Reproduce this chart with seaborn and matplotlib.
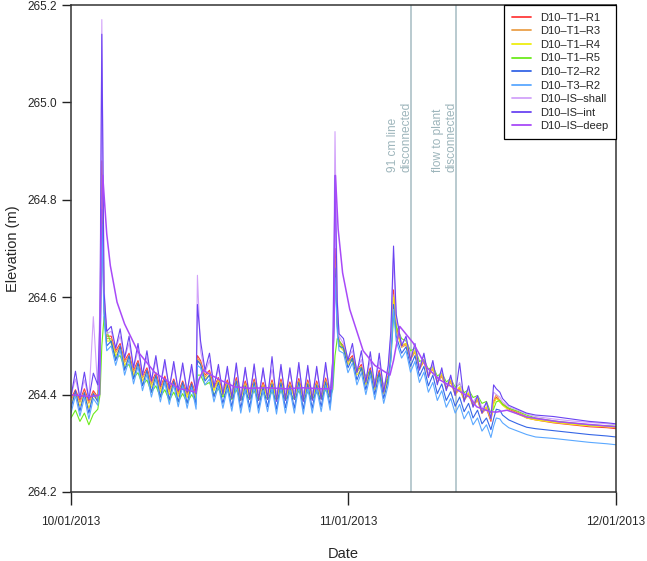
import matplotlib
matplotlib.use("Agg")
import matplotlib.pyplot as plt
import matplotlib.dates as mdates
from matplotlib.lines import Line2D
import numpy as np
import pandas as pd
import seaborn as sns

START = pd.Timestamp("2013-10-01")

# sample times, days after 10/01/2013, shared by the eight oscillating wells
t_days = [0, 0.5, 1, 1.5, 2, 2.5, 3,
          3.25, 3.45, 3.7, 4,
          4.5, 5, 5.5, 6, 6.5, 7, 7.5, 8, 8.5, 9, 9.5, 10, 10.5, 11, 11.5,
          12, 12.5, 13, 13.5, 14,
          14.15,
          14.5, 15, 15.5, 16, 16.5, 17, 17.5, 18, 18.5, 19, 19.5, 20, 20.5,
          21, 21.5, 22, 22.5, 23, 23.5, 24, 24.5, 25, 25.5, 26, 26.5, 27,
          27.5, 28, 28.5, 29,
          29.3, 29.55, 29.8,
          30, 30.5, 31, 31.5, 32, 32.5, 33, 33.5, 34, 34.5, 35, 35.5,
          35.8, 36.1, 36.4,
          37, 37.5, 38, 38.5, 39, 39.5, 40, 40.5, 41, 41.5, 42, 42.5, 43,
          43.5, 44, 44.5, 45, 45.5, 46, 46.5, 47,
          47.3, 47.6, 48, 48.3,
          49, 50, 51, 52, 54, 56, 58, 60, 61]

# elevations, mm above 264 m
r1_mm = [392, 410, 388, 412, 386, 408, 395,
         500, 880, 600, 520,
         520, 490, 505, 470, 485, 450, 470, 438, 455, 425, 445, 415, 438, 410,
         432, 405, 428, 403, 426, 400,
         480,
         470, 440, 450, 415, 435, 405, 430, 400, 435, 398, 428, 400, 432, 398,
         425, 400, 430, 397, 432, 398, 426, 400, 433, 396, 430, 398, 428, 399,
         434, 402,
         450, 700, 560,
         510, 500, 470, 480, 450, 462, 430, 455, 420, 450, 412, 440,
         500, 615, 540,
         500, 505, 475, 490, 455, 470, 440, 455, 428, 440, 415, 428, 402, 415,
         390, 402, 378, 390, 362, 372, 345,
         385, 395, 385, 380,
         370, 362, 352, 348, 342, 338, 334, 332, 330]

r3_mm = [388, 405, 384, 406, 382, 404, 392,
         480, 850, 585, 515,
         515, 486, 500, 466, 480, 446, 465, 434, 450, 421, 440, 411, 433, 406,
         428, 401, 424, 399, 422, 396,
         475,
         466, 436, 446, 412, 431, 402, 426, 397, 430, 395, 424, 397, 428, 395,
         421, 397, 426, 394, 428, 395, 422, 397, 429, 393, 426, 395, 424, 396,
         430, 399,
         440, 680, 550,
         505, 496, 466, 476, 446, 458, 426, 450, 416, 446, 408, 436,
         495, 605, 535,
         497, 502, 472, 487, 452, 467, 437, 452, 425, 437, 412, 425, 399, 412,
         388, 400, 376, 388, 362, 372, 348,
         388, 400, 388, 382,
         372, 364, 355, 350, 344, 340, 336, 334, 332]

r4_mm = [380, 402, 376, 400, 372, 398, 388,
         470, 800, 575, 510,
         510, 480, 495, 460, 475, 440, 460, 428, 445, 415, 436, 405, 428, 400,
         424, 396, 420, 394, 418, 392,
         470,
         462, 432, 440, 408, 427, 398, 422, 394, 428, 392, 420, 394, 425, 392,
         418, 394, 424, 391, 425, 392, 419, 394, 427, 390, 424, 392, 421, 393,
         427, 396,
         435, 660, 545,
         500, 490, 462, 470, 440, 452, 420, 445, 410, 440, 402, 430,
         490, 600, 530,
         502, 505, 478, 490, 458, 470, 443, 455, 430, 442, 418, 430, 405, 416,
         393, 404, 381, 392, 366, 375, 350,
         380, 392, 385, 378,
         368, 360, 352, 348, 343, 339, 336, 334, 333]

r5_mm = [352, 368, 345, 362, 338, 360, 370,
         400, 500, 560, 530,
         505, 475, 480, 455, 462, 435, 445, 420, 430, 405, 418, 395, 410, 388,
         405, 385, 402, 383, 400, 385,
         440,
         440, 420, 425, 400, 412, 395, 408, 390, 410, 388, 405, 390, 408, 388,
         404, 390, 406, 388, 408, 389, 404, 390, 408, 387, 406, 390, 405, 391,
         410, 395,
         410, 480, 515,
         512, 495, 472, 470, 452, 455, 438, 448, 428, 440, 420, 432,
         470, 560, 540,
         515, 510, 490, 495, 468, 472, 452, 458, 438, 445, 426, 433, 415, 422,
         404, 410, 394, 398, 382, 386, 362,
         370, 385, 388, 380,
         372, 366, 358, 352, 346, 342, 338, 336, 335]

t2r2_mm = [372, 408, 366, 404, 362, 402, 385,
           460, 780, 570, 500,
           510, 470, 500, 450, 480, 432, 465, 418, 450, 405, 440, 395, 432,
           390, 428, 385, 425, 382, 422, 380,
           470,
           462, 428, 440, 395, 425, 382, 420, 375, 428, 372, 418, 374, 425,
           372, 416, 375, 422, 370, 424, 373, 418, 372, 426, 370, 422, 372,
           420, 375, 426, 378,
           430, 660, 540,
           500, 495, 455, 475, 430, 455, 410, 450, 400, 445, 392, 430,
           480, 585, 520,
           485, 498, 458, 480, 438, 458, 418, 440, 402, 422, 388, 406, 376,
           395, 365, 382, 352, 368, 340, 352, 328,
           350, 370, 368, 358,
           348, 340, 333, 330, 326, 322, 318, 315, 313]

t3r2_mm = [362, 398, 356, 394, 350, 392, 378,
           450, 750, 555, 490,
           500, 460, 492, 440, 472, 422, 458, 408, 442, 395, 432, 385, 425,
           380, 420, 375, 418, 372, 415, 370,
           460,
           455, 420, 432, 385, 418, 372, 412, 366, 420, 362, 410, 364, 418,
           362, 408, 365, 414, 360, 416, 362, 410, 362, 418, 360, 414, 362,
           412, 365, 418, 368,
           420, 640, 530,
           490, 485, 445, 465, 420, 445, 400, 440, 390, 435, 382, 420,
           470, 575, 510,
           475, 490, 446, 468, 425, 446, 405, 425, 388, 408, 374, 392, 362,
           380, 350, 366, 338, 352, 325, 338, 312,
           335, 352, 350, 342,
           332, 325, 318, 313, 310, 306, 302, 299, 297]

shall_mm = [398, 432, 394, 430, 392, 560, 410,
            600, 1170, 620, 525,
            530, 495, 520, 475, 505, 455, 490, 440, 478, 428, 470, 420, 462,
            415, 458, 410, 455, 408, 452, 405,
            645,
            490, 445, 470, 420, 452, 410, 448, 405, 455, 402, 448, 405, 452,
            402, 446, 404, 452, 400, 454, 403, 446, 403, 455, 400, 452, 402,
            448, 404, 455, 408,
            470, 940, 600,
            520, 505, 475, 490, 452, 472, 432, 470, 422, 468, 415, 450,
            520, 680, 560,
            505, 515, 480, 500, 458, 480, 442, 462, 430, 448, 418, 435, 408,
            425, 396, 410, 385, 398, 372, 382, 352,
            405, 400, 395, 385,
            375, 368, 360, 355, 350, 346, 343, 340, 338]

int_mm = [396, 448, 392, 446, 390, 444, 420,
          560, 1140, 610, 530,
          540, 495, 535, 475, 520, 455, 505, 440, 490, 428, 480, 418, 472,
          412, 468, 408, 465, 405, 462, 402,
          585,
          510, 450, 485, 415, 462, 400, 458, 392, 465, 388, 456, 390, 463,
          388, 455, 390, 478, 386, 462, 388, 455, 390, 466, 386, 460, 388,
          458, 390, 466, 395,
          470, 850, 590,
          525, 515, 470, 505, 445, 490, 425, 488, 415, 485, 405, 460,
          530, 705, 565,
          500, 520, 470, 505, 450, 485, 435, 470, 420, 455, 408, 440, 398,
          465, 385, 418, 374, 398, 362, 385, 350,
          420, 412, 405, 392,
          378, 370, 362, 358, 355, 350, 345, 342, 340]

# the deep well is smooth, so it has its own coarser sample times
deep_days = [0, 1, 2, 3, 3.2, 3.35, 3.55, 4.0, 4.4, 5.15, 6.0, 7.5, 9.4, 12.0,
             14.0, 14.3, 14.8, 15.5, 16.7, 18.3, 20, 22, 24, 26, 28, 29.2,
             29.45, 29.6, 29.9, 30.4, 31.2, 32.7, 34.0, 35.7, 36.1, 36.8,
             38.3, 39.8, 41.3, 43.2, 44.6, 45.4, 46.9, 47.6, 48.8, 51.0,
             54.7, 58.4, 61]
deep_mm = [400, 398, 396, 398, 400, 700, 850, 730, 665, 590, 545, 488, 445,
           413, 405, 430, 450, 442, 430, 416, 413, 414, 412, 414, 412, 412,
           560, 850, 740, 650, 575, 490, 460, 440, 470, 540, 506, 456, 430,
           410, 395, 375, 365, 364, 368, 354, 344, 338, 334]

wells = ["D10\u2013T1\u2013R1", "D10\u2013T1\u2013R3", "D10\u2013T1\u2013R4",
         "D10\u2013T1\u2013R5", "D10\u2013T2\u2013R2", "D10\u2013T3\u2013R2",
         "D10\u2013IS\u2013shall", "D10\u2013IS\u2013int",
         "D10\u2013IS\u2013deep"]
colors = ["#FF3B3B", "#EBA04A", "#EEEE10", "#6CEB1C", "#3566E6", "#5AA8FF",
          "#D2A2FA", "#6A44F2", "#A84AF8"]

events = [38.05, 43.1]
event_text = ["91 cm line\ndisconnected", "flow to plant\ndisconnected"]


def main():
    osc = [r1_mm, r3_mm, r4_mm, r5_mm, t2r2_mm, t3r2_mm, shall_mm, int_mm]
    frames = []
    for name, mm in zip(wells[:-1], osc):
        assert len(mm) == len(t_days), name
        frames.append(pd.DataFrame({"days": t_days, "mm": mm, "well": name}))
    frames.append(pd.DataFrame({"days": deep_days, "mm": deep_mm,
                                "well": wells[-1]}))
    df = pd.concat(frames, ignore_index=True)
    df["Date"] = START + pd.to_timedelta(df["days"], unit="D")
    df["Elevation"] = 264.0 + df["mm"] / 1000.0

    sns.set_style("ticks")
    plt.rcParams["font.family"] = ["Liberation Sans", "DejaVu Sans"]

    fig = plt.figure(figsize=(6.47, 5.61), dpi=100)
    ax = fig.add_axes([71 / 647, 1 - 492 / 561, 545 / 647, 487 / 561])

    for d in events:
        ax.axvline(START + pd.Timedelta(days=d), color="#B3C6CC", lw=1.3,
                   zorder=1)

    sns.lineplot(data=df, x="Date", y="Elevation", hue="well",
                 hue_order=wells, palette=dict(zip(wells, colors)),
                 estimator=None, lw=0.8, legend=False, ax=ax, zorder=2)
    # deep well looks a touch heavier in the original
    ax.get_lines()[-1].set_linewidth(1.1)

    for d, txt in zip(events, event_text):
        ax.text(START + pd.Timedelta(days=d + 0.2), 264.857, txt,
                rotation=90, ha="right", va="bottom", multialignment="left",
                color="#9DB5BB", fontsize=8.6)

    ax.set_xlim(START, pd.Timestamp("2013-12-01"))
    ax.set_ylim(264.2, 265.2)
    ax.set_xticks([START, pd.Timestamp("2013-11-01"),
                   pd.Timestamp("2013-12-01")])
    ax.xaxis.set_major_formatter(mdates.DateFormatter("%m/%d/%Y"))
    ax.set_yticks(np.arange(264.2, 265.21, 0.2))
    ax.set_yticklabels([f"{v:.1f}" for v in np.arange(264.2, 265.21, 0.2)])
    ax.tick_params(axis="x", length=9.4, width=1, pad=8, labelsize=8.5,
                   color="#222222")
    ax.tick_params(axis="y", length=6.5, width=1, pad=3.5, labelsize=8.5,
                   color="#222222")
    for sp in ax.spines.values():
        sp.set_visible(True)
        sp.set_color("#333333")
        sp.set_linewidth(1.1)

    ax.set_xlabel("Date", fontsize=10.5)
    ax.set_ylabel("Elevation (m)", fontsize=10.5)
    ax.xaxis.set_label_coords(0.5, -0.112)
    ax.yaxis.set_label_coords(-0.094, 0.5)

    handles = [Line2D([], [], color=c, lw=1.3) for c in colors]
    leg = ax.legend(handles, wells, loc="upper right", borderaxespad=0,
                    fancybox=False, framealpha=1, edgecolor="black",
                    fontsize=8, handlelength=1.7, handletextpad=0.8,
                    labelspacing=0.32, borderpad=0.7)
    leg.get_frame().set_linewidth(0.9)

    fig.savefig("out.png", dpi=100)


if __name__ == "__main__":
    main()
